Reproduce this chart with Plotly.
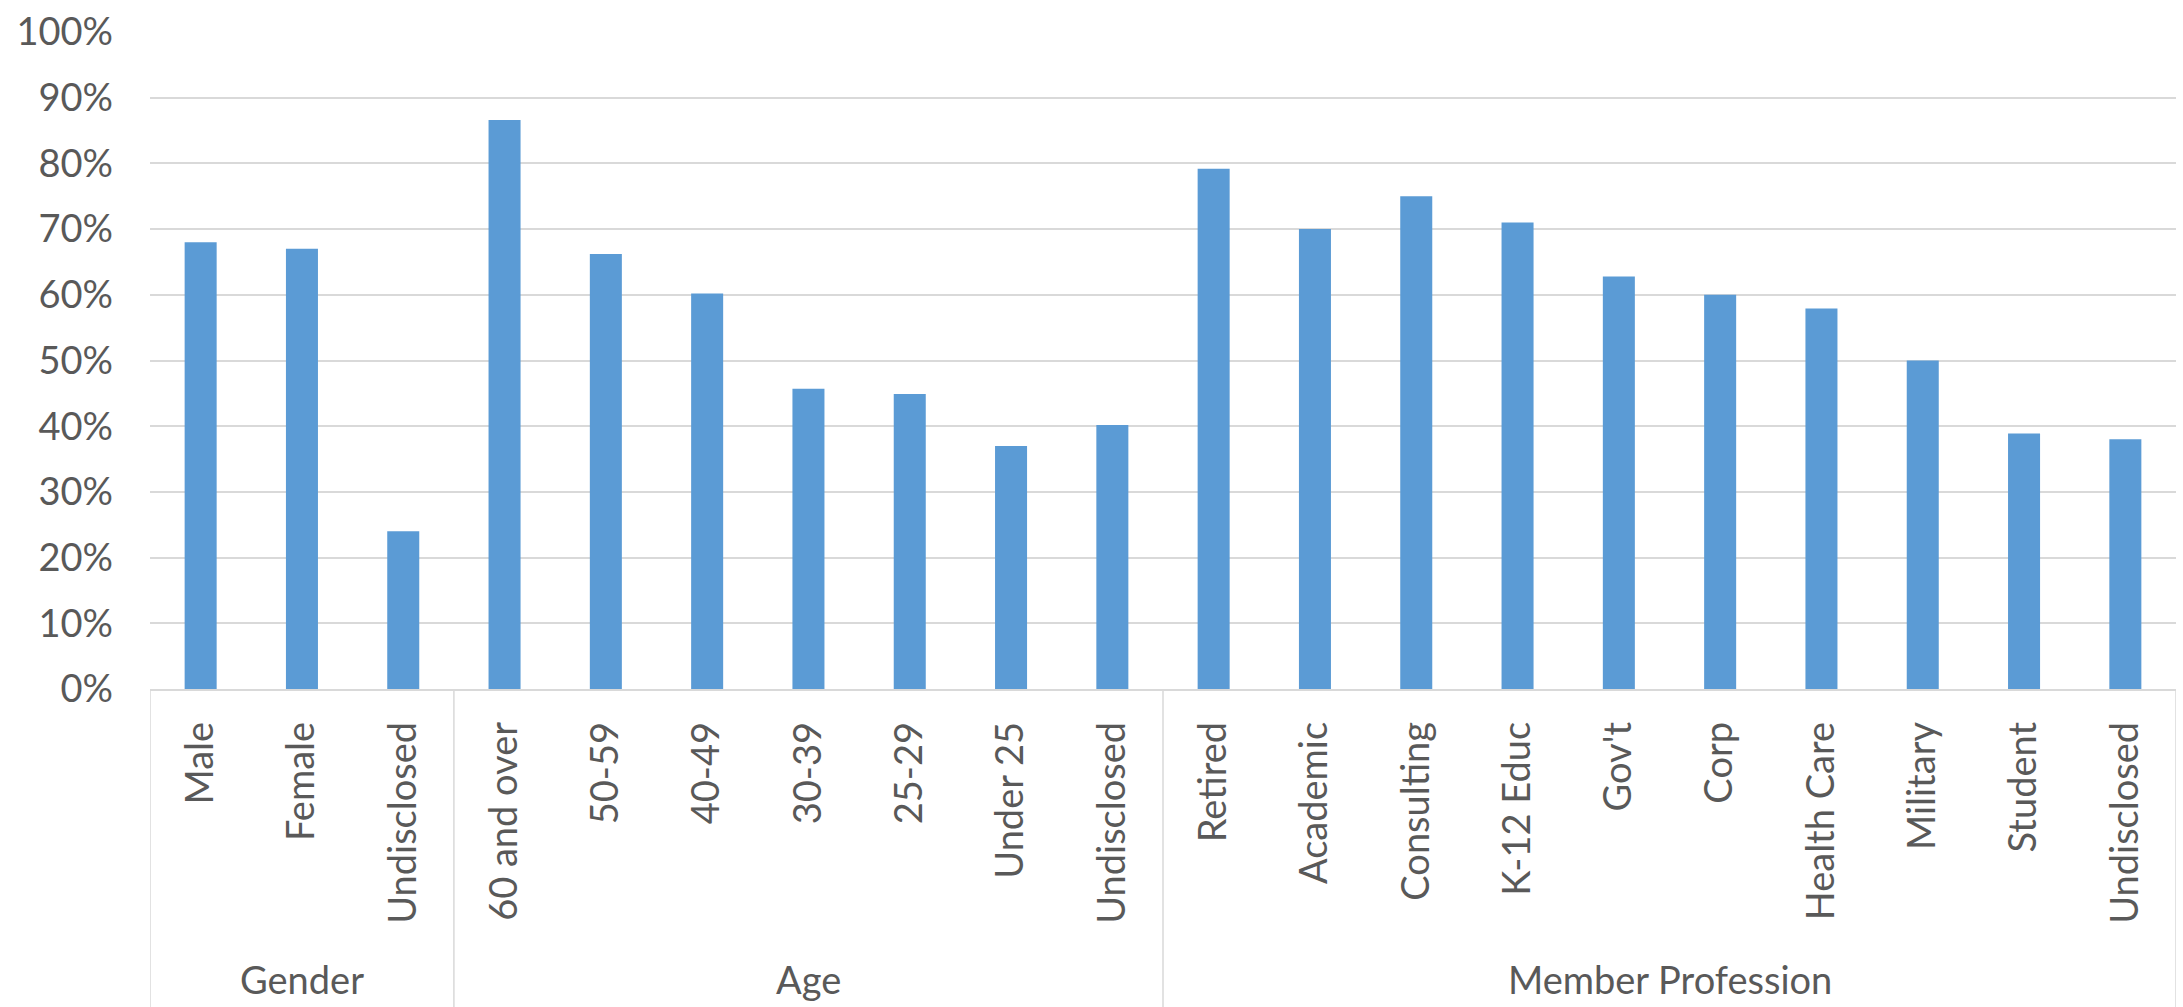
import plotly.graph_objects as go

groups = ["Gender", "Age", "Member Profession"]
categories_gender = ["Male", "Female", "Undisclosed"]
categories_age = ["60 and over", "50-59", "40-49", "30-39", "25-29", "Under 25", "Undisclosed"]
categories_prof = ["Retired", "Academic", "Consulting", "K-12 Educ", "Gov't", "Corp",
                   "Health Care", "Military", "Student", "Undisclosed"]
values_gender = [68.0, 67.0, 24.0]
values_age = [86.6, 66.2, 60.2, 45.7, 44.9, 37.0, 40.2]
values_prof = [79.2, 70.0, 75.0, 71.0, 62.8, 60.0, 57.9, 50.0, 38.9, 38.0]
y_ticks = [0, 10, 20, 30, 40, 50, 60, 70, 80, 90, 100]
y_tick_labels = ["0%", "10%", "20%", "30%", "40%", "50%", "60%", "70%", "80%", "90%", "100%"]

group_cats = [categories_gender, categories_age, categories_prof]
group_vals = [values_gender, values_age, values_prof]

labels = [c for g in group_cats for c in g]
values = [v for g in group_vals for v in g]
idx = list(range(len(labels)))

FONT = "Lato"
TXT = "#595959"
GRID = "#D9D9D9"
FS = 38

fig = go.Figure(go.Bar(x=idx, y=values, marker=dict(color="#5B9BD5", line=dict(width=0)),
                       hoverinfo="skip"))

shapes = []
annotations = []
start = 0
bounds = [-0.5]
for gname, cats in zip(groups, group_cats):
    n = len(cats)
    center = start + (n - 1) / 2
    annotations.append(dict(x=center, y=-0.441, xref="x", yref="paper", text=gname,
                            showarrow=False, yanchor="middle", xanchor="center",
                            font=dict(family=FONT, size=FS, color=TXT)))
    start += n
    bounds.append(start - 0.5)
for b in bounds:
    shapes.append(dict(type="line", xref="x", yref="paper", x0=b, x1=b, y0=0, y1=-0.5,
                       line=dict(color=GRID, width=1.5)))

fig.update_layout(
    width=2183, height=1007,
    margin=dict(l=150, r=7, t=25, b=318),
    paper_bgcolor="white", plot_bgcolor="white",
    bargap=0.684,
    showlegend=False,
    shapes=shapes,
    annotations=annotations,
    font=dict(family=FONT, size=FS, color=TXT),
    xaxis=dict(range=[-0.5, len(labels) - 0.5], tickmode="array", tickvals=idx, ticktext=labels,
               tickangle=-90, showgrid=False, zeroline=False, showline=True, linecolor=GRID,
               linewidth=1.5, ticks="", ticklabelstandoff=16,
               tickfont=dict(family=FONT, size=FS, color=TXT)),
    yaxis=dict(range=[0, 100], tickmode="array", tickvals=y_ticks, ticktext=y_tick_labels,
               showgrid=True, gridcolor=GRID, gridwidth=1.5, zeroline=False, showline=False,
               ticks="", ticklabelstandoff=36,
               tickfont=dict(family=FONT, size=FS, color=TXT)),
)

fig.write_html("out.html")
